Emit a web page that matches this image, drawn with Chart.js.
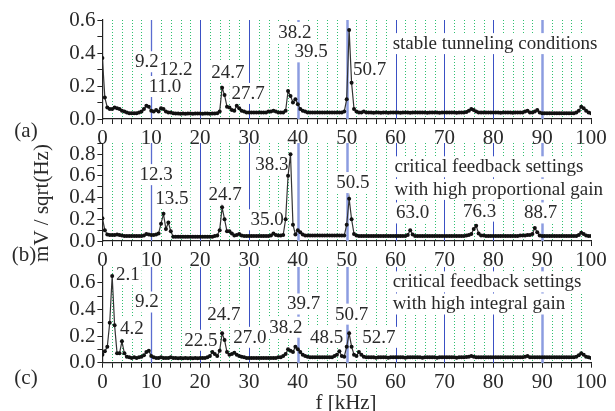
<!DOCTYPE html>
<html>
<head>
<meta charset="utf-8">
<script src="https://cdn.jsdelivr.net/npm/chart.js@4.4.0/dist/chart.umd.min.js"></script>
<style>
html, body { margin: 0; padding: 0; background: #fff; }
#wrap { position: relative; width: 615px; height: 411px; overflow: hidden; background: #fff; }
canvas { position: absolute; left: 0; }
</style>
</head>
<body>
<div id="wrap">
  <canvas id="pa" width="615" height="145" style="top:0px"></canvas>
  <canvas id="pb" width="615" height="145" style="top:125px"></canvas>
  <canvas id="pc" width="615" height="161" style="top:250px"></canvas>
</div>
<script>
/* DATA – frequency grid (kHz) and spectra (mV/sqrt(Hz)) */
const freqs = [
  0,0.5,1,1.5,2,2.5,3,3.5,4,4.5,
  5,5.5,6,6.5,7,7.5,8,8.5,9,9.5,
  10,10.5,11,11.5,12,12.5,13,13.5,14,14.5,
  15,15.5,16,16.5,17,17.5,18,18.5,19,19.5,
  20,20.5,21,21.5,22,22.5,23,23.5,24,24.5,
  25,25.5,26,26.5,27,27.5,28,28.5,29,29.5,
  30,30.5,31,31.5,32,32.5,33,33.5,34,34.5,
  35,35.5,36,36.5,37,37.5,38,38.5,39,39.5,
  40,40.5,41,41.5,42,42.5,43,43.5,44,44.5,
  45,45.5,46,46.5,47,47.5,48,48.5,49,49.5,
  50,50.5,51,51.5,52,52.5,53,53.5,54,54.5,
  55,55.5,56,56.5,57,57.5,58,58.5,59,59.5,
  60,60.5,61,61.5,62,62.5,63,63.5,64,64.5,
  65,65.5,66,66.5,67,67.5,68,68.5,69,69.5,
  70,70.5,71,71.5,72,72.5,73,73.5,74,74.5,
  75,75.5,76,76.5,77,77.5,78,78.5,79,79.5,
  80,80.5,81,81.5,82,82.5,83,83.5,84,84.5,
  85,85.5,86,86.5,87,87.5,88,88.5,89,89.5,
  90,90.5,91,91.5,92,92.5,93,93.5,94,94.5,
  95,95.5,96,96.5,97,97.5,98,98.5,99,99.5,
  100
];

// (a) stable tunneling conditions
const valsA = [
  0.37,0.13,0.07,0.06,0.06,0.07,0.065,0.06,0.05,0.045,
  0.04,0.035,0.035,0.035,0.035,0.04,0.045,0.06,0.08,0.075,
  0.05,0.045,0.055,0.045,0.065,0.06,0.045,0.04,0.04,0.035,
  0.033,0.033,0.032,0.033,0.032,0.033,0.033,0.032,0.033,0.033,
  0.033,0.032,0.033,0.033,0.032,0.033,0.033,0.035,0.045,0.19,
  0.145,0.075,0.07,0.055,0.05,0.08,0.065,0.05,0.045,0.04,
  0.04,0.04,0.04,0.04,0.04,0.04,0.04,0.04,0.045,0.045,
  0.05,0.045,0.04,0.04,0.04,0.05,0.17,0.14,0.1,0.12,
  0.09,0.06,0.05,0.045,0.04,0.04,0.04,0.04,0.04,0.04,
  0.04,0.04,0.04,0.04,0.04,0.04,0.04,0.04,0.04,0.045,
  0.12,0.54,0.22,0.06,0.045,0.04,0.04,0.045,0.04,0.04,
  0.04,0.038,0.04,0.04,0.038,0.04,0.04,0.038,0.04,0.04,
  0.04,0.04,0.038,0.04,0.04,0.04,0.038,0.04,0.04,0.04,
  0.04,0.04,0.04,0.038,0.04,0.04,0.04,0.04,0.038,0.04,
  0.04,0.04,0.04,0.04,0.04,0.038,0.04,0.04,0.04,0.042,
  0.05,0.06,0.055,0.045,0.04,0.04,0.04,0.04,0.04,0.04,
  0.04,0.04,0.04,0.038,0.04,0.04,0.04,0.04,0.038,0.04,
  0.04,0.04,0.04,0.045,0.05,0.04,0.04,0.045,0.055,0.04,
  0.035,0.035,0.035,0.035,0.035,0.035,0.035,0.035,0.035,0.035,
  0.035,0.035,0.035,0.035,0.04,0.05,0.075,0.065,0.05,0.04,
  0.035
];

// (b) high proportional gain
const valsB = [
  0.21,0.1,0.06,0.055,0.055,0.055,0.06,0.055,0.05,0.045,
  0.045,0.045,0.045,0.045,0.045,0.045,0.045,0.05,0.065,0.06,
  0.055,0.055,0.06,0.07,0.16,0.25,0.11,0.17,0.09,0.04,
  0.04,0.04,0.04,0.04,0.04,0.04,0.04,0.04,0.04,0.04,
  0.04,0.04,0.04,0.04,0.04,0.04,0.045,0.05,0.1,0.31,
  0.2,0.09,0.09,0.07,0.05,0.055,0.065,0.05,0.045,0.045,
  0.045,0.045,0.045,0.045,0.045,0.045,0.045,0.045,0.045,0.05,
  0.07,0.055,0.05,0.05,0.055,0.2,0.6,0.8,0.15,0.06,
  0.1,0.08,0.06,0.05,0.05,0.05,0.05,0.05,0.05,0.05,
  0.05,0.05,0.05,0.05,0.05,0.05,0.05,0.05,0.05,0.05,
  0.15,0.39,0.2,0.065,0.05,0.045,0.045,0.045,0.045,0.045,
  0.045,0.045,0.045,0.045,0.045,0.045,0.045,0.045,0.045,0.045,
  0.045,0.045,0.045,0.045,0.045,0.055,0.1,0.06,0.045,0.045,
  0.045,0.045,0.045,0.045,0.045,0.045,0.045,0.045,0.045,0.045,
  0.045,0.045,0.045,0.045,0.045,0.045,0.045,0.045,0.045,0.05,
  0.055,0.065,0.11,0.14,0.07,0.05,0.05,0.045,0.045,0.045,
  0.045,0.045,0.045,0.045,0.045,0.045,0.045,0.045,0.045,0.045,
  0.045,0.05,0.05,0.05,0.055,0.055,0.065,0.12,0.08,0.05,
  0.045,0.045,0.045,0.045,0.045,0.045,0.045,0.045,0.045,0.045,
  0.045,0.045,0.045,0.045,0.045,0.055,0.075,0.065,0.05,0.045,
  0.045
];

// (c) high integral gain
const valsC = [
  0.06,0.085,0.12,0.3,0.65,0.28,0.07,0.07,0.16,0.07,
  0.045,0.04,0.035,0.04,0.035,0.04,0.045,0.055,0.08,0.09,
  0.05,0.04,0.035,0.035,0.04,0.035,0.035,0.035,0.04,0.035,
  0.035,0.033,0.035,0.033,0.035,0.033,0.035,0.033,0.035,0.033,
  0.035,0.035,0.035,0.04,0.05,0.08,0.065,0.05,0.09,0.22,
  0.17,0.08,0.06,0.065,0.075,0.06,0.05,0.045,0.04,0.035,
  0.035,0.035,0.035,0.035,0.035,0.035,0.035,0.035,0.035,0.035,
  0.035,0.035,0.04,0.04,0.05,0.065,0.1,0.09,0.08,0.12,
  0.1,0.08,0.06,0.05,0.045,0.04,0.04,0.04,0.04,0.04,
  0.04,0.04,0.04,0.04,0.04,0.05,0.06,0.085,0.05,0.045,
  0.12,0.22,0.12,0.06,0.05,0.08,0.06,0.045,0.04,0.04,
  0.04,0.04,0.038,0.04,0.04,0.04,0.04,0.038,0.04,0.04,
  0.04,0.04,0.04,0.04,0.038,0.04,0.04,0.04,0.04,0.04,
  0.04,0.038,0.04,0.04,0.04,0.04,0.04,0.038,0.04,0.04,
  0.04,0.04,0.04,0.04,0.04,0.038,0.04,0.04,0.04,0.042,
  0.045,0.05,0.045,0.04,0.04,0.04,0.04,0.04,0.04,0.04,
  0.04,0.04,0.04,0.04,0.04,0.04,0.04,0.04,0.04,0.04,
  0.04,0.04,0.04,0.045,0.05,0.04,0.04,0.04,0.04,0.04,
  0.04,0.04,0.04,0.04,0.04,0.04,0.04,0.04,0.04,0.04,
  0.04,0.04,0.04,0.04,0.045,0.055,0.07,0.06,0.045,0.04,
  0.035
];

/* TICK LABELS */
const xTicks = [0,10,20,30,40,50,60,70,80,90,100];
const yTicksA = [0,0.2,0.4,0.6];
const yTicksB = [0,0.2,0.4,0.6,0.8];
const yTicksC = [0,0.2,0.4,0.6];

/* PEAK LABELS: text, kHz, value where the label sits */
const notesA = [['9.2',9.1,0.35],['12.2',15.05,0.30],['11.0',12.8,0.20],['24.7',25.7,0.285],
  ['27.7',29.8,0.158],['38.2',39.4,0.527],['39.5',42.7,0.41],['50.7',54.7,0.30]];
const notesB = [['12.3',11.0,0.616],['13.5',14.2,0.40],['24.7',25.1,0.435],['35.0',33.7,0.2],
  ['38.3',34.7,0.706],['50.5',51.25,0.543],['63.0',63.5,0.263],['76.3',77.2,0.28],['88.7',89.7,0.263]];
const notesC = [['2.1',5.2,0.663],['9.2',9.1,0.459],['4.2',6.05,0.262],['22.5',20.16,0.172],
  ['24.7',24.87,0.368],['27.0',30.18,0.194],['38.2',37.55,0.27],['39.7',41.2,0.444],
  ['48.5',45.9,0.194],['50.7',51.0,0.368],['52.7',56.6,0.194]];
const captionA = [['stable tunneling conditions',59.4,0.46]];
const captionB = [['critical feedback settings',59.8,0.688],['with high proportional gain',59.8,0.48]];
const captionC = [['critical feedback settings',59.4,0.61],['with high integral gain',59.4,0.444]];

const SERIF = "'Liberation Serif', 'DejaVu Serif', serif";
const INK = '#2a2a2a';

/* helper: text with white box behind */
function boxText(ctx, txt, x, y, align) {
  const w = ctx.measureText(txt).width;
  const x0 = align === 'left' ? x : x - w / 2;
  ctx.fillStyle = '#fff';
  ctx.fillRect(x0 - 2, y - 10, w + 4, 21);
  ctx.fillStyle = INK;
  ctx.textAlign = 'left';
  ctx.textBaseline = 'middle';
  ctx.fillText(txt, x0, y + 1);
}

/* GRID + LABEL BOXES (drawn under the data) */
function underlay(notes, captions) {
  return {
    id: 'underlay',
    beforeDatasetsDraw(chart) {
      const {ctx, chartArea: a, scales: {x, y}} = chart;
      const top = Math.round(a.top), bot = Math.round(a.bottom);
      ctx.save();
      for (let f = 2; f < 100; f += 2) {
        const px = Math.round(x.getPixelForValue(f)) + 0.5;
        ctx.beginPath();
        if (f % 10 === 0) {
          ctx.setLineDash([]);
          if (f === 40 || f === 50 || f === 90) { ctx.strokeStyle = '#8c9ce0'; ctx.lineWidth = 2.5; }
          else if (f === 10) { ctx.strokeStyle = '#5a6cd0'; ctx.lineWidth = 1.3; }
          else { ctx.strokeStyle = '#3a50c4'; ctx.lineWidth = 1; }
        } else {
          ctx.setLineDash([1, 2]);
          ctx.strokeStyle = '#2fc070';
          ctx.lineWidth = 1;
        }
        ctx.moveTo(px, top);
        ctx.lineTo(px, bot);
        ctx.stroke();
      }
      ctx.setLineDash([]);
      ctx.font = '19px ' + SERIF;
      notes.forEach(n => boxText(ctx, n[0], x.getPixelForValue(n[1]), y.getPixelForValue(n[2]), 'center'));
      captions.forEach(n => boxText(ctx, n[0], x.getPixelForValue(n[1]), y.getPixelForValue(n[2]), 'left'));
      ctx.restore();
    }
  };
}

/* PANEL LETTERS AND AXIS TITLES */
function overlay(items) {
  return {
    id: 'overlay',
    afterDraw(chart) {
      const ctx = chart.ctx;
      ctx.save();
      ctx.fillStyle = INK;
      ctx.textAlign = 'center';
      ctx.textBaseline = 'middle';
      ctx.font = '21px ' + SERIF;
      items.forEach(it => {
        ctx.save();
        ctx.translate(it.x, it.y);
        if (it.rot) ctx.rotate(it.rot);
        ctx.fillText(it.t, 0, 0);
        ctx.restore();
      });
      ctx.restore();
    }
  };
}

function makePanel(id, vals, yMax, yTicks, padTop, xHeight, notes, captions, items) {
  return new Chart(document.getElementById(id), {
    type: 'line',
    data: {
      labels: freqs,
      datasets: [{
        data: vals,
        borderColor: '#333',
        borderWidth: 1.2,
        pointRadius: 2,
        pointBackgroundColor: '#111',
        pointBorderColor: '#111',
        pointBorderWidth: 0,
        tension: 0
      }]
    },
    options: {
      responsive: false,
      animation: false,
      layout: {padding: {top: padTop, right: 24, left: 0, bottom: 0}},
      plugins: {legend: {display: false}, tooltip: {enabled: false}},
      scales: {
        x: {
          type: 'linear', min: 0, max: 100,
          afterFit: s => { s.height = xHeight; },
          ticks: {
            stepSize: 2, autoSkip: false, maxRotation: 0, padding: 2,
            color: INK, font: {family: SERIF, size: 21},
            callback: v => xTicks.includes(v) ? String(v) : ''
          },
          grid: {drawOnChartArea: false, tickLength: 5, tickColor: '#222', tickWidth: 1},
          border: {color: '#222', width: 1.2}
        },
        y: {
          min: 0, max: yMax,
          afterFit: s => { s.width = 102.4; },
          afterBuildTicks: s => {
            s.ticks = s.ticks.filter(t => Math.abs(t.value * 10 - Math.round(t.value * 10)) < 1e-6);
          },
          ticks: {
            stepSize: 0.1, padding: 2, autoSkip: false,
            color: INK, font: {family: SERIF, size: 21},
            callback: v => yTicks.some(t => Math.abs(t - v) < 1e-6) ? v.toFixed(1) : ''
          },
          grid: {drawOnChartArea: false, tickLength: 5, tickColor: '#222', tickWidth: 1},
          border: {color: '#222', width: 1.2}
        }
      }
    },
    plugins: [underlay(notes, captions), overlay(items)]
  });
}

makePanel('pa', valsA, 0.6, yTicksA, 20, 26, notesA, captionA,
  [{t: '(a)', x: 26, y: 131}]);
makePanel('pb', valsB, 0.9, yTicksB, 18.3, 29, notesB, captionB,
  [{t: '(b)', x: 24, y: 130}, {t: 'mV / sqrt(Hz)', x: 42, y: 78, rot: -Math.PI / 2}]);
makePanel('pc', valsC, 0.72, yTicksC, 16.7, 48.3, notesC, captionC,
  [{t: '(c)', x: 26, y: 128}, {t: 'f [kHz]', x: 346, y: 153}]);
</script>
</body>
</html>
